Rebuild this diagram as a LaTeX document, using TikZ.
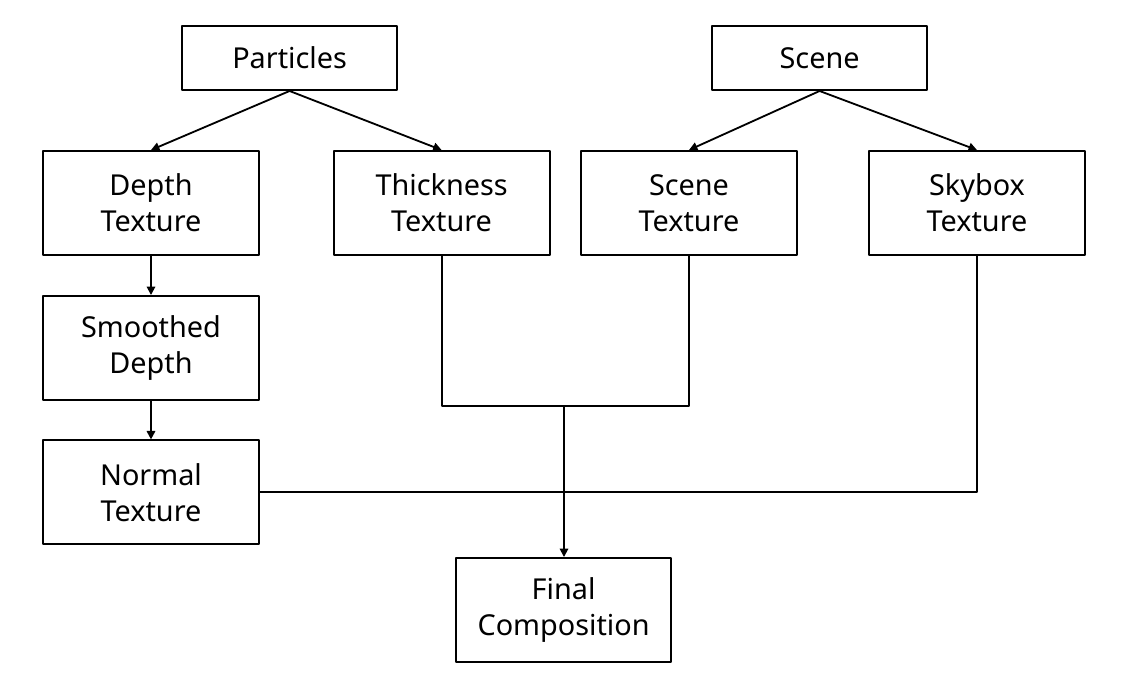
\documentclass[tikz,border=0pt]{standalone}
\usepackage{fontspec}
\setmainfont{Noto Sans}
\usetikzlibrary{arrows.meta}
\tikzset{
  stage/.style={draw, line width=1.4pt, minimum width=5.4cm, minimum height=2.6cm,
    align=center, inner sep=0pt, font=\fontsize{20.5}{25.5}\selectfont},
  source/.style={stage, minimum width=5.375cm, minimum height=1.6cm},
  flow/.style={line width=1.3pt, -{Triangle[length=6pt,width=6pt]}},
  link/.style={line width=1.3pt}
}
\begin{document}
\begin{tikzpicture}[line cap=round, line join=round]
  \useasboundingbox (0,0) rectangle (28.2,-17.075);

  \node[source] (particles) at (7.24,-1.45) {Particles};
  \node[source] (scene) at (20.49,-1.45) {Scene};

  \node[stage] (depth) at (3.775,-5.075) {Depth\\Texture};
  \node[stage] (thickness) at (11.04,-5.075) {Thickness\\Texture};
  \node[stage] (scenetex) at (17.225,-5.075) {Scene\\Texture};
  \node[stage] (skybox) at (24.425,-5.075) {Skybox\\Texture};

  \node[stage] (smoothed) at (3.775,-8.7) {Smoothed\\Depth};
  \node[stage] (normal) at (3.775,-12.31) {Normal\\Texture};

  \node[stage, minimum width=5.375cm] (final) at (14.09,-15.25) {Final\\Composition};

  \coordinate (join) at (14.1,-10.15);

  \draw[flow] (particles.south) -- (depth.north);
  \draw[flow] (particles.south) -- (thickness.north);
  \draw[flow] (scene.south) -- (scenetex.north);
  \draw[flow] (scene.south) -- (skybox.north);

  \draw[flow] (depth) -- (smoothed);
  \draw[flow] (smoothed) -- (normal);

  \draw[link] (thickness.south) |- (join) -| (scenetex.south);
  \draw[link] (normal.east) -| (skybox.south);
  \draw[flow] (join) -- (join |- final.north);
\end{tikzpicture}
\end{document}
